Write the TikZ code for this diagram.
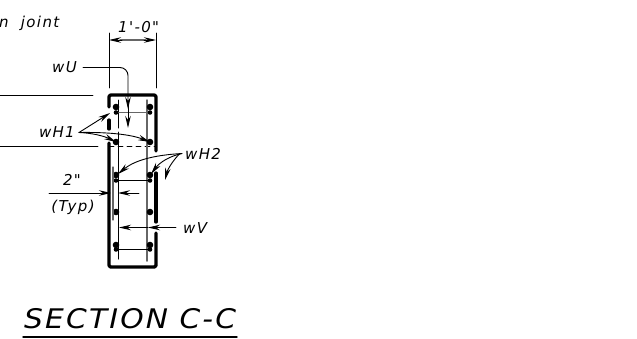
\documentclass[tikz,border=0pt]{standalone}
\usepackage{fontspec}
\setmainfont{DejaVu Sans}
\newfontfamily\cadfont[LetterSpace=9]{DejaVu Sans}
\newfontfamily\titlefont[LetterSpace=8,FakeStretch=1.1]{DejaVu Sans}
\usetikzlibrary{arrows.meta}
\tikzset{
  wall/.style={line width=3.2pt},
  rebar/.style={line width=1pt},
  graybar/.style={line width=1.5pt,color=black!60},
  lead/.style={line width=.9pt},
  tip/.style={-{Stealth[length=12pt,width=5.5pt]}},
  lbl/.style={inner sep=0pt,font=\cadfont\itshape\fontsize{15}{17}\selectfont},
  bar/.style={circle,fill=black,inner sep=0pt,minimum size=6.6pt},
  tie/.style={circle,fill=black,inner sep=0pt,minimum size=4.6pt}
}
\begin{document}
\begin{tikzpicture}[line cap=round,line join=round,>=stealth,x=1pt,y=-1pt]
\useasboundingbox (0,0) rectangle (637,338);
% slab lines
\draw [lead] (0,95)-- (93,95);
\draw [lead] (0,146)-- (98,146);
\draw [lead,dashed,dash pattern=on 5pt off 4pt] (109,146)-- (156,146);
% wall
\draw [wall,rounded corners=1.5pt] (109,107)-- (109,95)-- (156,95)-- (156,151);
\draw [wall] (109,120)-- (109,129);
\draw [wall,rounded corners=1.5pt] (109,143)-- (109,267)-- (156,267)-- (156,233);
\draw [wall] (156,173)-- (156,222);
% vertical bars
\draw [rebar] (118,100)-- (118,128);
\draw [graybar] (147,100)-- (147,134);
\draw [rebar] (118,132)-- (118,259);
\draw [graybar] (147,132)-- (147,261);
% ties and bars
\draw [graybar] (116,112.5)-- (150,112.5);
\draw [lead] (116,180.5)-- (150,180.5);
\draw [lead] (116,249.5)-- (150,249.5);
\foreach \y in {107,142,175,212,245} {
  \node [bar] at (116,\y) {};
  \node [bar] at (150,\y) {};
}
\foreach \y in {112.5,180.5,249.5} {
  \node [tie] at (116,\y) {};
  \node [tie] at (150,\y) {};
}
% dimension 1'-0"
\draw [lead] (109,33)-- (109,88);
\draw [lead] (156,33)-- (156,88);
\draw [graybar] (120,40)-- (146,40);
\draw [lead,tip] (122,40)-- (109,40);
\draw [lead,tip] (144,40)-- (156,40);
\node (lblDim) [lbl,anchor=west] at (118,27) {1'-0"};
% text
\node (lblJoint) [lbl,anchor=west] at (-1,23.5) {n\ \ joint};
% wU
\node (lblwU) [lbl,anchor=east] at (77,67.5) {wU};
\coordinate (wUtip) at (128,128);
\draw [lead,tip] (lblwU.east)+(6,0) -- (120,67.5) arc (-90:0:8) -- (128,109);
\draw [lead,tip] (128,105)-- (wUtip);
% wH1
\node (lblwHa) [lbl,anchor=east] at (75,132.5) {wH1};
\coordinate (wHaA) at (110,113);
\coordinate (wHaB) at (116,142);
\coordinate (wHaC) at (150,142);
\draw [lead,tip] (lblwHa.east)+(4,0) -- (wHaA);
\draw [lead,tip] (lblwHa.east)+(4,0) .. controls (92,133) and (104,136) .. (wHaB);
\draw [lead,tip] (lblwHa.east)+(4,0) .. controls (105,132) and (130,134) .. (wHaC);
% wH2
\node (lblwHb) [lbl,anchor=west] at (185,153.5) {wH2};
\coordinate (wHbA) at (118,174);
\coordinate (wHbB) at (151,174);
\coordinate (wHbC) at (165,180);
\draw [lead,tip] (lblwHb.west)+(-3,0) .. controls (155,155) and (135,160) .. (wHbA);
\draw [lead,tip] (lblwHb.west)+(-3,0) .. controls (170,156) and (160,162) .. (wHbB);
\draw [lead,tip] (lblwHb.west)+(-5,0) .. controls (175,158) and (168,168) .. (wHbC);
% 2" typ
\node (lblTwo) [lbl,anchor=center] at (72,180) {2"};
\node (lblTyp) [lbl,anchor=center] at (73,207) {(Typ)};
\draw [lead,tip] (49,193)-- (111,193);
\draw [lead,tip] (139,193)-- (118,193);
\draw [graybar,line width=1.2pt] (113,167)-- (113,220);
% wV
\node (lblwV) [lbl,anchor=west] at (183,228) {wV};
\draw [lead,tip] (176,227.5)-- (148,227.5);
\draw [lead,tip] (148,227.5)-- (119,227.5);
% title
\node (lblTitle) [inner sep=0pt,anchor=west,font=\titlefont\itshape\fontsize{27}{30}\selectfont] at (24,319) {SECTION C-C};
\draw [line width=1.4pt] (23,337)-- (237,337);
\end{tikzpicture}
\end{document}
